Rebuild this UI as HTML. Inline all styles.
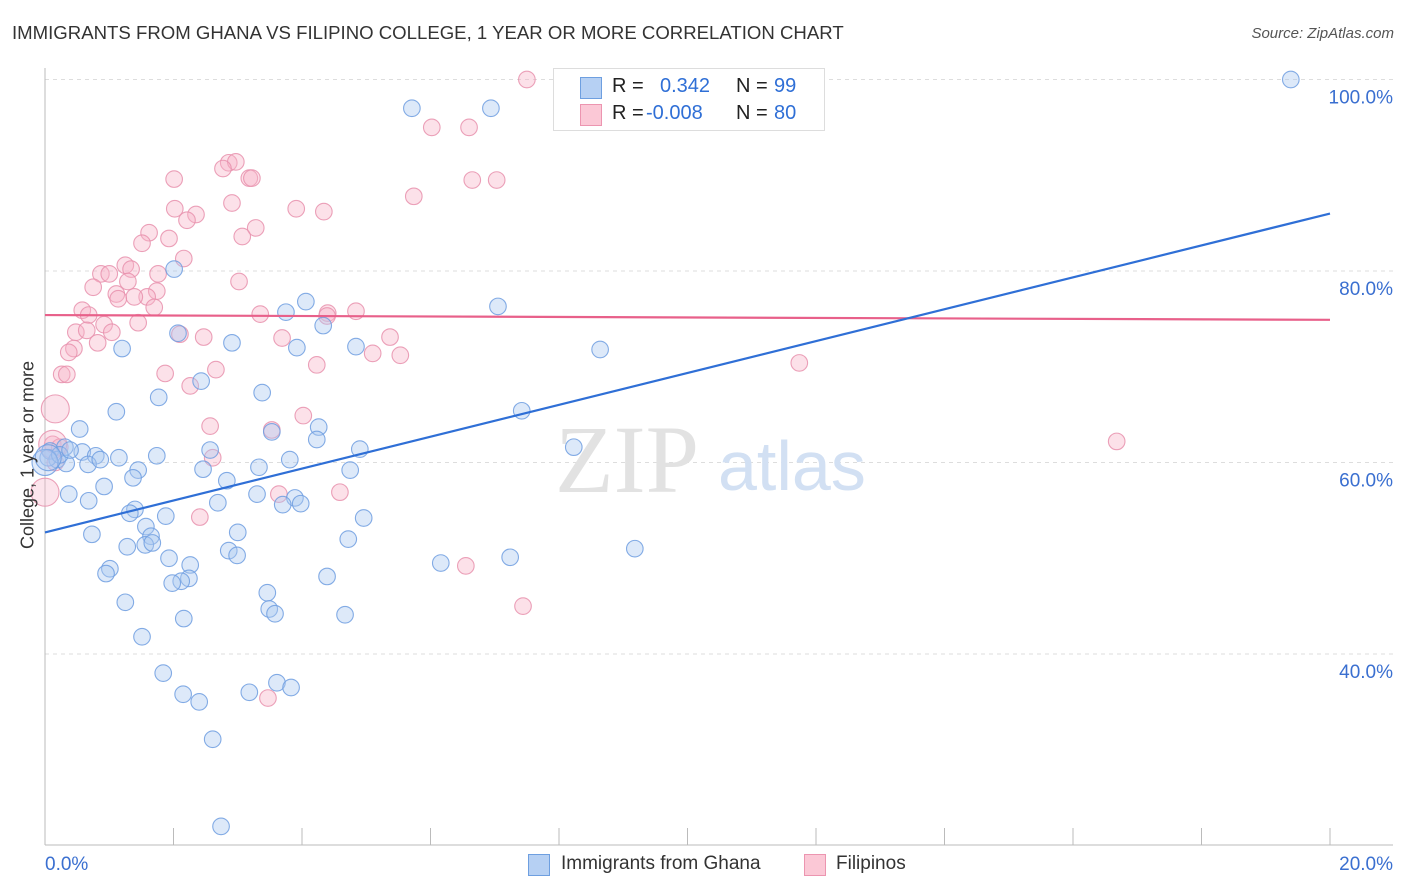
<!DOCTYPE html>
<html><head><meta charset="utf-8"><style>
body{margin:0;background:#fff;font-family:"Liberation Sans",sans-serif;}
#wrap{position:relative;width:1406px;height:892px;overflow:hidden;}
.t{position:absolute;white-space:nowrap;}
</style></head><body>
<div id="wrap">
<div class="t" style="left:12px;top:22px;font-size:18.6px;color:#333;">IMMIGRANTS FROM GHANA VS FILIPINO COLLEGE, 1 YEAR OR MORE CORRELATION CHART</div>
<div class="t" style="right:12px;top:25px;font-size:15px;color:#555;font-style:italic;">Source: ZipAtlas.com</div>
<svg id="svg" width="1406" height="892" style="position:absolute;left:0;top:0"></svg>
<div class="t" style="left:28px;top:455px;font-size:18px;color:#333;transform:translate(-50%,-50%) rotate(-90deg);">College, 1 year or more</div>
<div style="position:absolute;left:553px;top:68px;width:270px;height:61px;border:1px solid #ddd;background:#fff;font-size:20px;">
 <div style="position:absolute;left:26px;top:8px;width:20px;height:20px;background:#b6d0f3;border:1px solid #6e9fe0;"></div>
 <div class="t" style="left:58px;top:6px;color:#222;">R = </div><div class="t" style="left:106px;top:6px;color:#2f6fd6;">0.342</div>
 <div class="t" style="left:182px;top:6px;color:#222;">N = </div><div class="t" style="left:220px;top:6px;color:#2f6fd6;">99</div>
 <div style="position:absolute;left:26px;top:35px;width:20px;height:20px;background:#fbc8d6;border:1px solid #ec95b0;"></div>
 <div class="t" style="left:58px;top:33px;color:#222;">R = </div><div class="t" style="left:92px;top:33px;color:#2f6fd6;">-0.008</div>
 <div class="t" style="left:182px;top:33px;color:#222;">N = </div><div class="t" style="left:220px;top:33px;color:#2f6fd6;">80</div>
</div>
<div style="position:absolute;left:528px;top:853px;font-size:19px;color:#333;">
 <div style="position:absolute;left:0;top:1px;width:20px;height:20px;background:#b6d0f3;border:1px solid #6e9fe0;"></div>
 <div class="t" style="left:33px;top:0;">Immigrants from Ghana</div>
 <div style="position:absolute;left:276px;top:1px;width:20px;height:20px;background:#fbc8d6;border:1px solid #ec95b0;"></div>
 <div class="t" style="left:308px;top:0;">Filipinos</div>
</div>
</div>
<script>
const blueX=[19.39,5.71,6.94,2.01,4.06,3.75,7.05,4.33,2.07,2.91,1.20,3.92,4.84,8.64,2.43,1.77,3.38,1.11,7.42,4.26,0.54,3.53,4.23,2.57,4.90,0.31,0.08,0.58,0.79,0.19,0.33,0.67,1.15,1.74,0.86,1.45,2.46,3.33,3.81,4.75,1.37,0.92,2.83,0.37,0.68,3.30,3.89,2.69,3.70,3.98,1.40,1.32,1.88,4.96,1.57,0.73,3.00,1.65,4.72,1.28,1.56,1.67,2.86,2.99,1.93,6.16,7.24,9.18,2.26,1.01,0.95,2.24,2.12,1.98,4.39,3.46,1.25,3.49,3.58,2.16,4.67,1.51,1.84,2.15,2.40,3.18,3.61,3.83,2.61,2.74,8.23,0.05,0.23,0.39];
const blueY=[100,97.0,97.0,80.2,76.8,75.7,76.3,74.3,73.5,72.5,71.9,72.0,72.1,71.8,68.5,66.8,67.3,65.3,65.4,63.7,63.5,63.2,62.4,61.3,61.4,61.6,61.2,61.1,60.7,60.3,59.9,59.8,60.5,60.7,60.3,59.2,59.3,59.5,60.3,59.2,58.4,57.5,58.1,56.7,56.0,56.7,56.3,55.8,55.6,55.7,55.1,54.7,54.4,54.2,53.3,52.5,52.7,52.3,52.0,51.2,51.4,51.6,50.8,50.3,50.0,49.5,50.1,51.0,49.3,48.9,48.4,47.9,47.6,47.4,48.1,46.4,45.4,44.7,44.2,43.7,44.1,41.8,38.0,35.8,35.0,36.0,37.0,36.5,31.1,22.0,61.6,60.5,60.8,61.3];
const blueBigX=[0,0.05];
const blueBigY=[60.0,60.5];
const pinkX=[7.50,6.02,6.60,2.86,2.97,2.77,3.18,3.22,2.01,7.03,6.65,5.74,2.91,2.02,2.35,2.21,3.91,4.34,3.28,3.07,1.62,1.51,1.93,2.16,1.25,0.87,1.00,1.34,1.76,3.02,1.29,0.75,1.74,1.11,1.59,1.39,1.14,1.70,0.58,0.68,3.35,1.45,0.92,4.40,4.84,4.39,0.48,0.65,1.04,2.10,2.47,3.69,5.37,5.10,5.53,0.82,0.45,0.37,1.87,2.66,4.23,11.74,0.26,0.34,2.26,4.02,2.57,3.53,0.12,0.23,2.61,0.16,16.68,4.59,3.64,2.41,6.55,7.44,3.47];
const pinkY=[100,95.0,95.0,91.3,91.4,90.7,89.7,89.7,89.6,89.5,89.5,87.8,87.1,86.5,85.9,85.3,86.5,86.2,84.5,83.6,84.0,82.9,83.4,81.3,80.6,79.7,79.7,80.2,79.7,78.9,78.9,78.3,77.9,77.6,77.3,77.3,77.1,76.2,75.9,75.4,75.5,74.6,74.4,75.6,75.8,75.3,73.6,73.8,73.6,73.4,73.1,73.0,73.1,71.4,71.2,72.5,71.9,71.5,69.3,69.7,70.2,70.4,69.2,69.2,68.0,64.9,63.8,63.4,61.9,61.6,60.5,60.0,62.2,56.9,56.7,54.3,49.2,45.0,35.4];
const pinkBigX=[0.16,0,0.12];
const pinkBigY=[65.6,56.9,61.9];
const blueLine=[52.7,86.0];
const pinkLine=[75.4,74.9];
const yTicks=[40,60,80,100];
const xTickLabels=["0.0%","20.0%"];

const svg=document.getElementById('svg');
const NS='http://www.w3.org/2000/svg';
const X0=45,X1=1330,Y0=1037,PY=9.575;
const sx=v=>X0+(X1-X0)*v/20;
const sy=v=>Y0-v*PY;
function mk(tag,attrs){const e=document.createElementNS(NS,tag);for(const k in attrs)e.setAttribute(k,attrs[k]);svg.appendChild(e);return e;}
yTicks.forEach(t=>{
 const g=mk('line',{x1:45,x2:1393,y1:sy(t),y2:sy(t),stroke:'#ddd','stroke-dasharray':'4,4'});
 
 
 const tx=mk('text',{x:1393,y:sy(t)+24,'text-anchor':'end','font-size':19,fill:'#3a6fd0','font-family':'Liberation Sans'});
 tx.textContent=t.toFixed(1)+'%';
 
 
});
let a=mk('line',{x1:45,x2:45,y1:68,y2:845,stroke:'#bbb'});


a=mk('line',{x1:45,x2:1393,y1:845,y2:845,stroke:'#bbb'});


for(let i=1;i<=10;i++){const tk=mk('line',{x1:sx(i*2),x2:sx(i*2),y1:828,y2:845,stroke:'#bbb'});
 
 }
[[0,'start',45],[20,'end',1393]].forEach((d,i)=>{const tx=mk('text',{x:d[2],y:870,'text-anchor':d[1],'font-size':19,fill:'#3a6fd0','font-family':'Liberation Sans'});
 tx.textContent=xTickLabels[i];
 
 });
let wm=mk('text',{x:555,y:492,'font-size':96,fill:'#e2e2e2','font-family':'Liberation Serif'});
wm.textContent='ZIP';


wm=mk('text',{x:718,y:490,'font-size':70,fill:'#d2e0f3','font-family':'Liberation Sans'});
wm.textContent='atlas';


function dots(xs,ys,r,fill,stroke,name,op){xs.forEach((v,i)=>{const c=mk('circle',{cx:sx(v),cy:sy(ys[i]),r:r,fill:fill,'fill-opacity':op,stroke:stroke,'stroke-opacity':0.85,'stroke-width':1.1});
 
 });}
dots(pinkX,pinkY,8.3,'#f7b3c8','#e890ad','filipinos-point',0.4);
dots(pinkBigX,pinkBigY,14,'#f7b3c8','#e890ad','filipinos-point-large',0.35);
dots(blueX,blueY,8.3,'#a9c7f0','#6e9de0','ghana-point',0.4);
dots(blueBigX,blueBigY,13,'#a9c7f0','#6e9de0','ghana-point-large',0.35);
let l=mk('line',{x1:sx(0),x2:sx(20),y1:sy(pinkLine[0]),y2:sy(pinkLine[1]),stroke:'#e8608a','stroke-width':2.2});


l=mk('line',{x1:sx(0),x2:sx(20),y1:sy(blueLine[0]),y2:sy(blueLine[1]),stroke:'#2f6fd6','stroke-width':2.2});


</script>
</body></html>
